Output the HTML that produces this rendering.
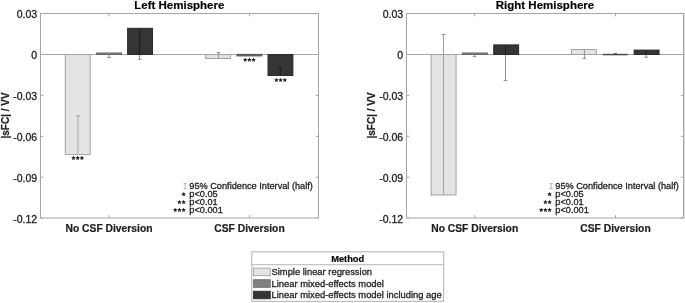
<!DOCTYPE html>
<html><head><meta charset="utf-8"><style>
html,body{margin:0;padding:0;background:#fff;width:685px;height:303px;overflow:hidden}
svg{display:block;will-change:transform}
text{font-family:"Liberation Sans",sans-serif;fill:#1e1e1e}
.tk,.an,.lg{stroke:#1e1e1e;stroke-width:0.3px}
.xl,.yl,.ttl,.lt{stroke:#111;stroke-width:0.2px}
.tk{font-size:10.5px}
.ttl{font-size:11.5px;font-weight:bold;fill:#000}
.xl{font-size:10.15px;font-weight:bold}
.yl{font-size:10px;font-weight:bold}
.an{font-size:9.2px}
.lt{font-size:9.3px;font-weight:bold;fill:#000}
.lg{font-size:9.4px}
</style></head><body>
<svg width="685" height="303" viewBox="0 0 685 303">
<line x1="40.5" y1="54.5" x2="318.5" y2="54.5" stroke="#a6a6a6" stroke-width="1"/>
<line x1="406.5" y1="54.5" x2="683.5" y2="54.5" stroke="#a6a6a6" stroke-width="1"/>
<rect x="65.30" y="54.50" width="24.90" height="100.10" fill="#e3e3e3" stroke="#a3a3a3" stroke-width="1.0"/>
<line x1="78.00" y1="115.70" x2="78.00" y2="154.20" stroke="#b2b2b2" stroke-width="1.1"/>
<line x1="76.20" y1="115.90" x2="79.80" y2="115.90" stroke="#a0a0a0" stroke-width="1.1"/>
<rect x="96.55" y="53.00" width="24.90" height="1.50" fill="#7f7f7f" stroke="#6a6a6a" stroke-width="1.0"/>
<line x1="109.00" y1="54.50" x2="109.00" y2="57.50" stroke="#8e8e8e" stroke-width="1.0"/>
<line x1="107.20" y1="57.50" x2="110.80" y2="57.50" stroke="#8e8e8e" stroke-width="1.0"/>
<rect x="127.65" y="28.30" width="24.90" height="26.20" fill="#353535" stroke="#2a2a2a" stroke-width="1.0"/>
<line x1="139.60" y1="28.60" x2="139.60" y2="54.00" stroke="#1c1c1c" stroke-width="1.1"/>
<line x1="139.60" y1="55.00" x2="139.60" y2="59.30" stroke="#8e8e8e" stroke-width="1.0"/>
<line x1="137.80" y1="59.30" x2="141.40" y2="59.30" stroke="#8e8e8e" stroke-width="1.0"/>
<rect x="205.65" y="54.50" width="24.90" height="4.00" fill="#e3e3e3" stroke="#a3a3a3" stroke-width="1.0"/>
<line x1="218.50" y1="52.50" x2="218.50" y2="58.30" stroke="#8e8e8e" stroke-width="1.0"/>
<line x1="216.70" y1="52.50" x2="220.30" y2="52.50" stroke="#8e8e8e" stroke-width="1.0"/>
<rect x="236.95" y="54.40" width="24.90" height="1.50" fill="#666" stroke="#555" stroke-width="1.0"/>
<rect x="268.00" y="54.50" width="24.90" height="21.00" fill="#353535" stroke="#2a2a2a" stroke-width="1.0"/>
<line x1="280.30" y1="68.00" x2="280.30" y2="75.30" stroke="#1c1c1c" stroke-width="1.1"/>
<line x1="278.50" y1="68.00" x2="282.10" y2="68.00" stroke="#1c1c1c" stroke-width="1.1"/>
<rect x="431.15" y="54.50" width="24.90" height="140.50" fill="#e3e3e3" stroke="#a3a3a3" stroke-width="1.0"/>
<line x1="443.50" y1="34.30" x2="443.50" y2="54.00" stroke="#9a9a9a" stroke-width="1.0"/>
<line x1="443.50" y1="55.00" x2="443.50" y2="194.60" stroke="#a8a8a8" stroke-width="1.1"/>
<line x1="441.70" y1="34.50" x2="445.30" y2="34.50" stroke="#8e8e8e" stroke-width="1.1"/>
<rect x="462.40" y="53.00" width="24.90" height="1.50" fill="#7f7f7f" stroke="#6a6a6a" stroke-width="1.0"/>
<line x1="474.50" y1="54.50" x2="474.50" y2="56.50" stroke="#8e8e8e" stroke-width="1.0"/>
<line x1="472.70" y1="56.60" x2="476.30" y2="56.60" stroke="#8e8e8e" stroke-width="1.0"/>
<rect x="493.75" y="44.90" width="24.90" height="9.60" fill="#353535" stroke="#2a2a2a" stroke-width="1.0"/>
<line x1="505.50" y1="45.20" x2="505.50" y2="54.00" stroke="#1c1c1c" stroke-width="1.0"/>
<line x1="505.50" y1="55.00" x2="505.50" y2="80.50" stroke="#8e8e8e" stroke-width="1.0"/>
<line x1="503.70" y1="80.50" x2="507.30" y2="80.50" stroke="#8e8e8e" stroke-width="1.0"/>
<rect x="571.45" y="49.50" width="24.90" height="5.00" fill="#e3e3e3" stroke="#a3a3a3" stroke-width="1.0"/>
<line x1="584.40" y1="50.00" x2="584.40" y2="58.40" stroke="#8e8e8e" stroke-width="1.0"/>
<line x1="582.60" y1="58.40" x2="586.20" y2="58.40" stroke="#8e8e8e" stroke-width="1.0"/>
<rect x="602.95" y="53.8" width="24.90" height="1.5" fill="#4a4a4a"/>
<line x1="613.80" y1="53.60" x2="617.00" y2="53.60" stroke="#555" stroke-width="1.0"/>
<rect x="634.15" y="50.10" width="24.90" height="4.40" fill="#353535" stroke="#2a2a2a" stroke-width="1.0"/>
<line x1="646.20" y1="50.50" x2="646.20" y2="54.00" stroke="#1c1c1c" stroke-width="1.1"/>
<line x1="646.20" y1="55.00" x2="646.20" y2="57.20" stroke="#8e8e8e" stroke-width="1.0"/>
<line x1="644.40" y1="57.20" x2="648.00" y2="57.20" stroke="#8e8e8e" stroke-width="1.0"/>
<rect x="40.5" y="13.5" width="278.0" height="204.5" fill="none" stroke="#a6a6a6" stroke-width="1"/>
<line x1="40.5" y1="13.5" x2="43.3" y2="13.5" stroke="#a6a6a6" stroke-width="1"/>
<line x1="315.7" y1="13.5" x2="318.5" y2="13.5" stroke="#a6a6a6" stroke-width="1"/>
<line x1="40.5" y1="54.5" x2="43.3" y2="54.5" stroke="#a6a6a6" stroke-width="1"/>
<line x1="315.7" y1="54.5" x2="318.5" y2="54.5" stroke="#a6a6a6" stroke-width="1"/>
<line x1="40.5" y1="95.4" x2="43.3" y2="95.4" stroke="#a6a6a6" stroke-width="1"/>
<line x1="315.7" y1="95.4" x2="318.5" y2="95.4" stroke="#a6a6a6" stroke-width="1"/>
<line x1="40.5" y1="136.3" x2="43.3" y2="136.3" stroke="#a6a6a6" stroke-width="1"/>
<line x1="315.7" y1="136.3" x2="318.5" y2="136.3" stroke="#a6a6a6" stroke-width="1"/>
<line x1="40.5" y1="177.2" x2="43.3" y2="177.2" stroke="#a6a6a6" stroke-width="1"/>
<line x1="315.7" y1="177.2" x2="318.5" y2="177.2" stroke="#a6a6a6" stroke-width="1"/>
<line x1="40.5" y1="218" x2="43.3" y2="218" stroke="#a6a6a6" stroke-width="1"/>
<line x1="315.7" y1="218" x2="318.5" y2="218" stroke="#a6a6a6" stroke-width="1"/>
<line x1="109.0" y1="218" x2="109.0" y2="215.2" stroke="#a6a6a6" stroke-width="1"/>
<line x1="109.0" y1="13.5" x2="109.0" y2="16.3" stroke="#a6a6a6" stroke-width="1"/>
<line x1="249.5" y1="218" x2="249.5" y2="215.2" stroke="#a6a6a6" stroke-width="1"/>
<line x1="249.5" y1="13.5" x2="249.5" y2="16.3" stroke="#a6a6a6" stroke-width="1"/>
<rect x="406.5" y="13.5" width="277.0" height="204.5" fill="none" stroke="#a6a6a6" stroke-width="1"/>
<line x1="406.5" y1="13.5" x2="409.3" y2="13.5" stroke="#a6a6a6" stroke-width="1"/>
<line x1="680.7" y1="13.5" x2="683.5" y2="13.5" stroke="#a6a6a6" stroke-width="1"/>
<line x1="406.5" y1="54.5" x2="409.3" y2="54.5" stroke="#a6a6a6" stroke-width="1"/>
<line x1="680.7" y1="54.5" x2="683.5" y2="54.5" stroke="#a6a6a6" stroke-width="1"/>
<line x1="406.5" y1="95.4" x2="409.3" y2="95.4" stroke="#a6a6a6" stroke-width="1"/>
<line x1="680.7" y1="95.4" x2="683.5" y2="95.4" stroke="#a6a6a6" stroke-width="1"/>
<line x1="406.5" y1="136.3" x2="409.3" y2="136.3" stroke="#a6a6a6" stroke-width="1"/>
<line x1="680.7" y1="136.3" x2="683.5" y2="136.3" stroke="#a6a6a6" stroke-width="1"/>
<line x1="406.5" y1="177.2" x2="409.3" y2="177.2" stroke="#a6a6a6" stroke-width="1"/>
<line x1="680.7" y1="177.2" x2="683.5" y2="177.2" stroke="#a6a6a6" stroke-width="1"/>
<line x1="406.5" y1="218" x2="409.3" y2="218" stroke="#a6a6a6" stroke-width="1"/>
<line x1="680.7" y1="218" x2="683.5" y2="218" stroke="#a6a6a6" stroke-width="1"/>
<line x1="474.7" y1="218" x2="474.7" y2="215.2" stroke="#a6a6a6" stroke-width="1"/>
<line x1="474.7" y1="13.5" x2="474.7" y2="16.3" stroke="#a6a6a6" stroke-width="1"/>
<line x1="615.5" y1="218" x2="615.5" y2="215.2" stroke="#a6a6a6" stroke-width="1"/>
<line x1="615.5" y1="13.5" x2="615.5" y2="16.3" stroke="#a6a6a6" stroke-width="1"/>
<line x1="684.5" y1="13" x2="684.5" y2="218.5" stroke="#dedede" stroke-width="1"/>
<text x="37.2" y="18.20" text-anchor="end" class="tk">0.03</text>
<text x="37.2" y="59.20" text-anchor="end" class="tk">0</text>
<text x="37.2" y="100.10" text-anchor="end" class="tk">-0.03</text>
<text x="37.2" y="141.00" text-anchor="end" class="tk">-0.06</text>
<text x="37.2" y="181.90" text-anchor="end" class="tk">-0.09</text>
<text x="37.2" y="222.70" text-anchor="end" class="tk">-0.12</text>
<text x="403.2" y="18.20" text-anchor="end" class="tk">0.03</text>
<text x="403.2" y="59.20" text-anchor="end" class="tk">0</text>
<text x="403.2" y="100.10" text-anchor="end" class="tk">-0.03</text>
<text x="403.2" y="141.00" text-anchor="end" class="tk">-0.06</text>
<text x="403.2" y="181.90" text-anchor="end" class="tk">-0.09</text>
<text x="403.2" y="222.70" text-anchor="end" class="tk">-0.12</text>
<text x="179.3" y="8.8" text-anchor="middle" class="ttl">Left Hemisphere</text>
<text x="545" y="8.8" text-anchor="middle" class="ttl">Right Hemisphere</text>
<text transform="translate(109.0,232.3) scale(1.015,1)" text-anchor="middle" class="xl">No CSF Diversion</text>
<text transform="translate(249.5,232.3) scale(1.015,1)" text-anchor="middle" class="xl">CSF Diversion</text>
<text transform="translate(474.7,232.3) scale(1.015,1)" text-anchor="middle" class="xl">No CSF Diversion</text>
<text transform="translate(615.5,232.3) scale(1.015,1)" text-anchor="middle" class="xl">CSF Diversion</text>
<text transform="translate(9.2,115.5) rotate(-90)" text-anchor="middle" class="yl">|sFC| / VV</text>
<text transform="translate(375.2,115.5) rotate(-90)" text-anchor="middle" class="yl">|sFC| / VV</text>
<polygon points="73.50,155.65 74.19,157.05 75.73,157.27 74.62,158.36 74.88,159.90 73.50,159.18 72.12,159.90 72.38,158.36 71.27,157.27 72.81,157.05" fill="#262626"/><polygon points="77.70,155.65 78.39,157.05 79.93,157.27 78.82,158.36 79.08,159.90 77.70,159.18 76.32,159.90 76.58,158.36 75.47,157.27 77.01,157.05" fill="#262626"/><polygon points="81.90,155.65 82.59,157.05 84.13,157.27 83.02,158.36 83.28,159.90 81.90,159.18 80.52,159.90 80.78,158.36 79.67,157.27 81.21,157.05" fill="#262626"/>
<polygon points="245.20,57.55 245.89,58.95 247.43,59.17 246.32,60.26 246.58,61.80 245.20,61.08 243.82,61.80 244.08,60.26 242.97,59.17 244.51,58.95" fill="#262626"/><polygon points="249.40,57.55 250.09,58.95 251.63,59.17 250.52,60.26 250.78,61.80 249.40,61.08 248.02,61.80 248.28,60.26 247.17,59.17 248.71,58.95" fill="#262626"/><polygon points="253.60,57.55 254.29,58.95 255.83,59.17 254.72,60.26 254.98,61.80 253.60,61.08 252.22,61.80 252.48,60.26 251.37,59.17 252.91,58.95" fill="#262626"/>
<polygon points="276.40,77.75 277.09,79.15 278.63,79.37 277.52,80.46 277.78,82.00 276.40,81.28 275.02,82.00 275.28,80.46 274.17,79.37 275.71,79.15" fill="#262626"/><polygon points="280.60,77.75 281.29,79.15 282.83,79.37 281.72,80.46 281.98,82.00 280.60,81.28 279.22,82.00 279.48,80.46 278.37,79.37 279.91,79.15" fill="#262626"/><polygon points="284.80,77.75 285.49,79.15 287.03,79.37 285.92,80.46 286.18,82.00 284.80,81.28 283.42,82.00 283.68,80.46 282.57,79.37 284.11,79.15" fill="#262626"/>
<text x="189.3" y="188.8" class="an">95% Confidence Interval (half)</text>
<path d="M183.50 183.6H186.70M185.10 183.6V188.6M183.50 188.6H186.70" stroke="#b6b6b6" stroke-width="1" fill="none"/>
<polygon points="183.60,191.95 184.29,193.35 185.83,193.57 184.72,194.66 184.98,196.20 183.60,195.47 182.22,196.20 182.48,194.66 181.37,193.57 182.91,193.35" fill="#262626"/>
<text x="189.3" y="196.9" class="an">p&lt;0.05</text>
<polygon points="183.60,199.85 184.29,201.25 185.83,201.47 184.72,202.56 184.98,204.10 183.60,203.38 182.22,204.10 182.48,202.56 181.37,201.47 182.91,201.25" fill="#262626"/><polygon points="179.40,199.85 180.09,201.25 181.63,201.47 180.52,202.56 180.78,204.10 179.40,203.38 178.02,204.10 178.28,202.56 177.17,201.47 178.71,201.25" fill="#262626"/>
<text x="189.3" y="204.9" class="an">p&lt;0.01</text>
<polygon points="183.60,207.65 184.29,209.05 185.83,209.27 184.72,210.36 184.98,211.90 183.60,211.18 182.22,211.90 182.48,210.36 181.37,209.27 182.91,209.05" fill="#262626"/><polygon points="179.40,207.65 180.09,209.05 181.63,209.27 180.52,210.36 180.78,211.90 179.40,211.18 178.02,211.90 178.28,210.36 177.17,209.27 178.71,209.05" fill="#262626"/><polygon points="175.20,207.65 175.89,209.05 177.43,209.27 176.32,210.36 176.58,211.90 175.20,211.18 173.82,211.90 174.08,210.36 172.97,209.27 174.51,209.05" fill="#262626"/>
<text x="189.3" y="212.9" class="an">p&lt;0.001</text>
<text x="555.3" y="188.8" class="an">95% Confidence Interval (half)</text>
<path d="M549.50 183.6H552.70M551.10 183.6V188.6M549.50 188.6H552.70" stroke="#b6b6b6" stroke-width="1" fill="none"/>
<polygon points="549.60,191.95 550.29,193.35 551.83,193.57 550.72,194.66 550.98,196.20 549.60,195.47 548.22,196.20 548.48,194.66 547.37,193.57 548.91,193.35" fill="#262626"/>
<text x="555.3" y="196.9" class="an">p&lt;0.05</text>
<polygon points="549.60,199.85 550.29,201.25 551.83,201.47 550.72,202.56 550.98,204.10 549.60,203.38 548.22,204.10 548.48,202.56 547.37,201.47 548.91,201.25" fill="#262626"/><polygon points="545.40,199.85 546.09,201.25 547.63,201.47 546.52,202.56 546.78,204.10 545.40,203.38 544.02,204.10 544.28,202.56 543.17,201.47 544.71,201.25" fill="#262626"/>
<text x="555.3" y="204.9" class="an">p&lt;0.01</text>
<polygon points="549.60,207.65 550.29,209.05 551.83,209.27 550.72,210.36 550.98,211.90 549.60,211.18 548.22,211.90 548.48,210.36 547.37,209.27 548.91,209.05" fill="#262626"/><polygon points="545.40,207.65 546.09,209.05 547.63,209.27 546.52,210.36 546.78,211.90 545.40,211.18 544.02,211.90 544.28,210.36 543.17,209.27 544.71,209.05" fill="#262626"/><polygon points="541.20,207.65 541.89,209.05 543.43,209.27 542.32,210.36 542.58,211.90 541.20,211.18 539.82,211.90 540.08,210.36 538.97,209.27 540.51,209.05" fill="#262626"/>
<text x="555.3" y="212.9" class="an">p&lt;0.001</text>
<rect x="251.8" y="251.8" width="191.9" height="49.5" fill="#fff" stroke="#b0b0b0" stroke-width="1"/>
<line x1="252" y1="264.7" x2="443.7" y2="264.7" stroke="#c4c4c4" stroke-width="1.2"/>
<text x="347.7" y="261.8" text-anchor="middle" class="lt">Method</text>
<rect x="253.5" y="268.1" width="16.8" height="7.6" fill="#e3e3e3" stroke="#9a9a9a" stroke-width="0.8"/>
<text x="271.5" y="275.20" class="lg">Simple linear regression</text>
<rect x="253.5" y="279.7" width="16.8" height="7.6" fill="#7f7f7f" stroke="#6a6a6a" stroke-width="0.8"/>
<text x="271.5" y="286.80" class="lg">Linear mixed-effects model</text>
<rect x="253.5" y="291.2" width="16.8" height="7.6" fill="#353535" stroke="#2a2a2a" stroke-width="0.8"/>
<text x="271.5" y="298.30" class="lg">Linear mixed-effects model including age</text>
</svg>
</body></html>
